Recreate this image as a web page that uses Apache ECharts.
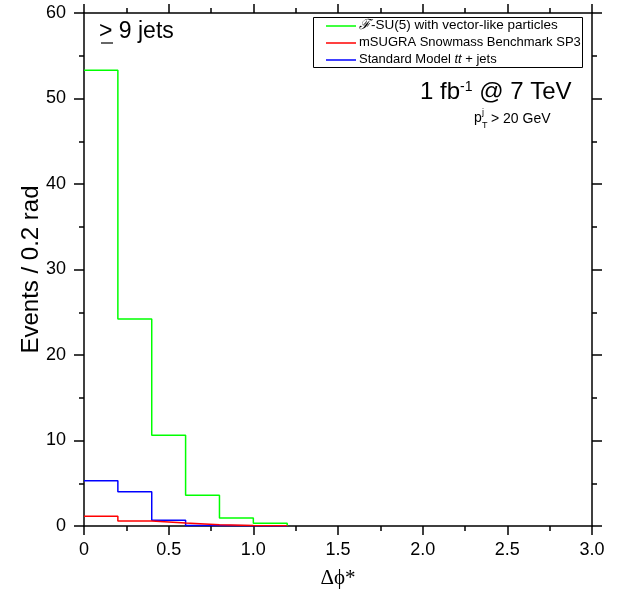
<!DOCTYPE html>
<html>
<head>
<meta charset="utf-8">
<script src="https://cdn.jsdelivr.net/npm/echarts@6/dist/echarts.min.js"></script>
<style>html,body{margin:0;padding:0;background:#fff}#c{width:637px;height:594px}</style>
</head>
<body>
<div id="c"></div>
<script>
// Bin edges (Δφ*) and histogram contents (events / 0.2 rad)
const binEdges = [0, 0.2, 0.4, 0.6, 0.8, 1.0, 1.2];
const fsu5Values = [53.3, 24.2, 10.6, 3.6, 0.95, 0.31];
const msugraValues = [1.13, 0.58, 0.35, 0.15, 0.05, 0.02];
const smValues = [5.28, 4.0, 0.66, 0.05, 0.02, 0.01];
const seriesNames = ['ℱ-SU(5) with vector-like particles', 'mSUGRA Snowmass Benchmark SP3', 'Standard Model tt + jets'];
const xTicks = [0, 0.5, 1.0, 1.5, 2.0, 2.5, 3.0];
const yTicks = [0, 10, 20, 30, 40, 50, 60];

const FONT = '"Liberation Sans", Arial, sans-serif';
function stepData(vals) {
  return binEdges.map((e, i) => [e, i < vals.length ? vals[i] : 0]);
}
const colors = ['#00ff00', '#ff0000', '#0000ff'];
const chart = echarts.init(document.getElementById('c'), null, {renderer: 'canvas'});

const xLabelFmt = v => (v === 0 ? '0' : v.toFixed(1));

chart.setOption({
  animation: false,
  backgroundColor: '#fff',
  grid: {left: 84, right: 45, top: 13, bottom: 67, containLabel: false},
  xAxis: [{
    type: 'value', min: 0, max: 3, interval: 0.5, position: 'bottom',
    axisLine: {onZero: false, lineStyle: {color: '#000', width: 1.5}},
    axisTick: {length: 9, lineStyle: {color: '#000', width: 1.5}},
    minorTick: {show: true, splitNumber: 2, length: 5, lineStyle: {color: '#000', width: 1.5}},
    splitLine: {show: false},
    axisLabel: {color: '#000', fontSize: 18, fontFamily: FONT, margin: 15, formatter: xLabelFmt},
    name: 'Δϕ*', nameLocation: 'middle', nameGap: 42,
    nameTextStyle: {color: '#000', fontSize: 21, fontFamily: '"Liberation Serif", "DejaVu Serif", serif'}
  }, {
    type: 'value', min: 0, max: 3, interval: 0.5, position: 'top',
    axisLine: {onZero: false, lineStyle: {color: '#000', width: 1.5}},
    axisTick: {length: 9, lineStyle: {color: '#000', width: 1.5}},
    minorTick: {show: true, splitNumber: 2, length: 5, lineStyle: {color: '#000', width: 1.5}},
    splitLine: {show: false}, axisLabel: {show: false}
  }],
  yAxis: [{
    type: 'value', min: 0, max: 60, interval: 10, position: 'left',
    axisLine: {show: true, onZero: false, lineStyle: {color: '#000', width: 1.5}},
    axisTick: {show: true, length: 10, lineStyle: {color: '#000', width: 1.5}},
    minorTick: {show: true, splitNumber: 2, length: 5, lineStyle: {color: '#000', width: 1.5}},
    splitLine: {show: false},
    axisLabel: {color: '#000', fontSize: 18, fontFamily: FONT, margin: 18},
    name: 'Events / 0.2 rad', nameLocation: 'middle', nameGap: 41, nameRotate: 90, nameMoveOverlap: false,
    nameTextStyle: {color: '#000', fontSize: 24, fontFamily: FONT}
  }, {
    type: 'value', min: 0, max: 60, interval: 10, position: 'right',
    axisLine: {show: true, onZero: false, lineStyle: {color: '#000', width: 1.5}},
    axisTick: {show: true, length: 10, lineStyle: {color: '#000', width: 1.5}},
    minorTick: {show: true, splitNumber: 2, length: 5, lineStyle: {color: '#000', width: 1.5}},
    splitLine: {show: false}, axisLabel: {show: false}
  }],
  series: [
    {name: seriesNames[2], type: 'line', step: 'end', data: stepData(smValues), symbol: 'none', lineStyle: {color: colors[2], width: 1.5}, z: 3},
    {name: seriesNames[1], type: 'line', step: 'end', data: stepData(msugraValues), symbol: 'none', lineStyle: {color: colors[1], width: 1.5}, z: 4},
    {name: seriesNames[0], type: 'line', step: 'end', data: stepData(fsu5Values), symbol: 'none', lineStyle: {color: colors[0], width: 1.5}, z: 2}
  ],
  graphic: [
    {type: 'rect', left: 313, top: 17, shape: {width: 269, height: 50}, style: {fill: '#fff', stroke: '#000', lineWidth: 1}, z: 10},
    {type: 'line', shape: {x1: 326, y1: 26, x2: 356, y2: 26}, style: {stroke: colors[0], lineWidth: 1.5}, z: 11},
    {type: 'line', shape: {x1: 326, y1: 43, x2: 356, y2: 43}, style: {stroke: colors[1], lineWidth: 1.5}, z: 11},
    {type: 'line', shape: {x1: 326, y1: 60, x2: 356, y2: 60}, style: {stroke: colors[2], lineWidth: 1.5}, z: 11},
    {type: 'text', left: 359, top: 18, z: 11, style: {text: '{s|ℱ}-SU(5) with vector-like particles', font: '13.5px ' + FONT, fill: '#000',
      rich: {s: {fontFamily: '"DejaVu Serif", serif', fontStyle: 'italic', fontSize: 14}}}},
    {type: 'text', left: 359, top: 35.5, z: 11, style: {text: 'mSUGRA Snowmass Benchmark SP3', font: '13px ' + FONT, fill: '#000'}},
    {type: 'text', left: 359, top: 52.5, z: 11, style: {text: 'Standard Model {i|tt} + jets', font: '13px ' + FONT, fill: '#000',
      rich: {i: {fontStyle: 'italic', fontSize: 13, fontFamily: FONT}}}},
    {type: 'text', left: 99, top: 20, z: 11, style: {text: '> 9 jets', font: '23px ' + FONT, fill: '#000'}},
    {type: 'line', shape: {x1: 101, y1: 43, x2: 113, y2: 43}, style: {stroke: '#000', lineWidth: 1.2}, z: 11},
    {type: 'text', left: 420, top: 80, z: 11, style: {text: '1 fb{sup|-1} @ 7 TeV', font: '24px ' + FONT, fill: '#000',
      rich: {sup: {fontSize: 14, fontFamily: FONT, verticalAlign: 'top', padding: [0, 0, 10, 0]}}}},
    {type: 'text', left: 474, top: 111, z: 11, style: {text: 'p', font: '14px ' + FONT, fill: '#000'}},
    {type: 'text', left: 482, top: 108, z: 11, style: {text: 'j', font: '9px ' + FONT, fill: '#000'}},
    {type: 'text', left: 482, top: 121, z: 11, style: {text: 'T', font: '9px ' + FONT, fill: '#000'}},
    {type: 'text', left: 491, top: 112, z: 11, style: {text: '> 20 GeV', font: '14px ' + FONT, fill: '#000'}}
  ]
});
</script>
</body>
</html>
